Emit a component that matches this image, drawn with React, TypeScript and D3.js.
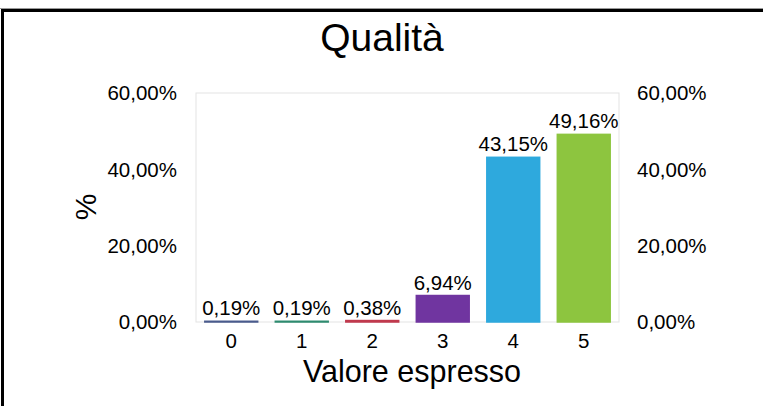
import React from "react";
import * as d3 from "d3";

const categories = ["0", "1", "2", "3", "4", "5"];
const values = [0.19, 0.19, 0.38, 6.94, 43.15, 49.16];
const barColors = ["#4a5b8c", "#2e8b6f", "#c0394d", "#7035a0", "#2ea9dd", "#8dc53f"];
const yTicks = [0, 20, 40, 60];

const W = 763;
const H = 406;
const plot = { left: 196, right: 619, top: 93, bottom: 322 };
const FONT = "Arial, 'Liberation Sans', sans-serif";

const fmt = (v: number) => v.toFixed(2).replace(".", ",") + "%";

export default function App() {
  const x = d3
    .scaleBand<string>()
    .domain(categories)
    .range([plot.left, plot.right])
    .paddingInner(0.25)
    .paddingOuter(0.125);
  const y = d3.scaleLinear().domain([0, 60]).range([plot.bottom, plot.top]);

  return (
    <div style={{ position: "fixed", left: 0, top: 0, width: W, height: H, overflow: "hidden", background: "#fff" }}>
      <svg width={W} height={H} style={{ display: "block" }} fontFamily={FONT}>
        {/* chart frame: only the top and left edges are in view */}
        <line x1={0} x2={W} y1={8.5} y2={8.5} stroke="#999" strokeWidth={1} />
        <line x1={2.5} x2={2.5} y1={9} y2={H} stroke="#000" strokeWidth={3} />
        <line x1={1} x2={W} y1={10.5} y2={10.5} stroke="#000" strokeWidth={3} />

        <text x={382} y={51} fontSize={39} textAnchor="middle" fill="#000">
          Qualità
        </text>

        {/* plot area */}
        <rect
          x={plot.left}
          y={plot.top}
          width={plot.right - plot.left}
          height={plot.bottom - plot.top}
          fill="#fff"
          stroke="#e3e3e3"
          strokeWidth={1}
        />

        {yTicks.map((t) => (
          <g key={t}>
            <text x={177} y={y(t)} dy="0.35em" fontSize={20.5} textAnchor="end" fill="#000">
              {fmt(t)}
            </text>
            <text x={637} y={y(t)} dy="0.35em" fontSize={20.5} textAnchor="start" fill="#000">
              {fmt(t)}
            </text>
          </g>
        ))}

        {categories.map((c, i) => {
          const v = values[i];
          const bx = x(c)!;
          const bw = x.bandwidth();
          const top = y(v);
          return (
            <g key={c}>
              <rect
                x={bx}
                y={top}
                width={bw}
                height={y(0) - top}
                fill={barColors[i]}
                stroke={barColors[i]}
                strokeWidth={1.5}
              />
              <text x={bx + bw / 2} y={top - 6} fontSize={20.5} textAnchor="middle" fill="#000">
                {fmt(v)}
              </text>
              <text x={bx + bw / 2} y={348} fontSize={20.5} textAnchor="middle" fill="#000">
                {c}
              </text>
            </g>
          );
        })}

        <text x={412} y={382} fontSize={30.5} textAnchor="middle" fill="#000">
          Valore espresso
        </text>

        <text transform={`translate(96,207) rotate(-90)`} fontSize={30} textAnchor="middle" fill="#000">
          %
        </text>
      </svg>
    </div>
  );
}
